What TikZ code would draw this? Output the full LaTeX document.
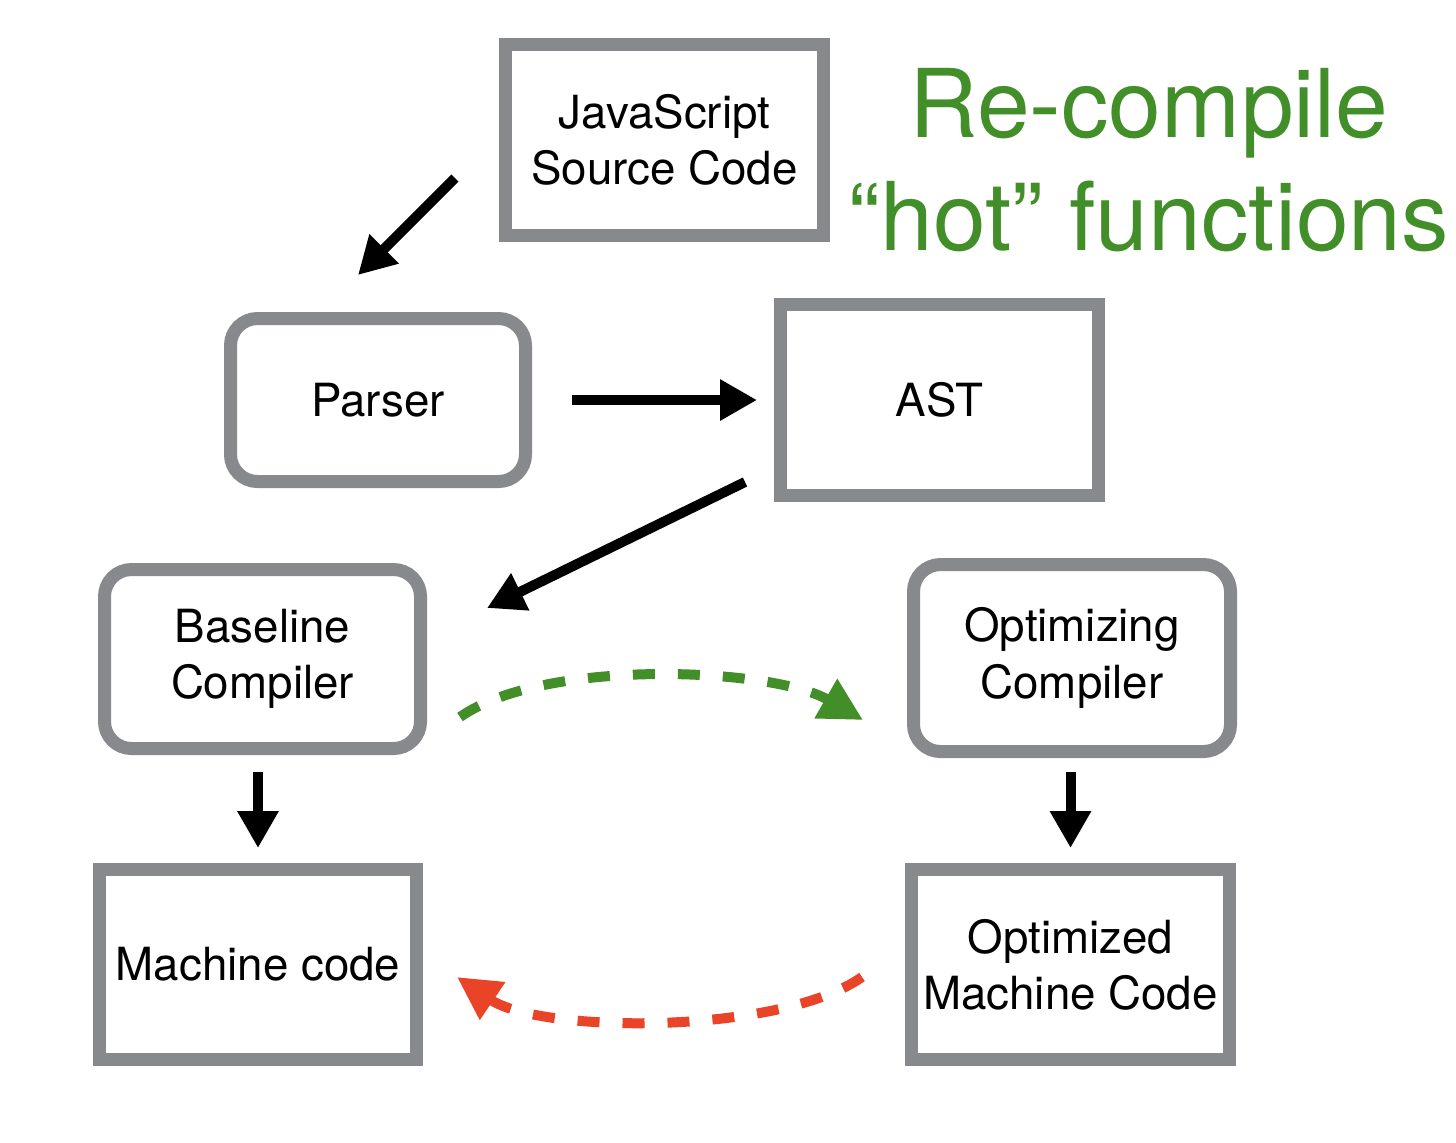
\documentclass[tikz,border=0pt]{standalone}
\usepackage{fontspec}
\setmainfont{TeX Gyre Heros}
\usetikzlibrary{arrows.meta}
\definecolor{boxgray}{RGB}{136,137,141}
\definecolor{hotgreen}{RGB}{66,142,41}
\definecolor{deopt}{RGB}{233,68,40}
\tikzset{
  box/.style={draw=boxgray, line width=0.13cm, align=center, inner sep=0pt,
    font=\fontsize{13}{16}\selectfont},
  rbox/.style={box, rounded corners=0.27cm},
  arr/.style={line width=0.1cm, -{Triangle[length=0.37cm,width=0.39cm]}},
  hot/.style={line width=0.1cm, dash pattern=on 0.22cm off 0.23cm,
    -{Triangle[length=0.43cm,width=0.43cm]}},
}
\begin{document}
\begin{tikzpicture}
  \useasboundingbox (0,0) rectangle (14.56,-11.42);
  % Front end
  \node[box, minimum width=3.18cm, minimum height=1.91cm] (js) at (6.645,-1.40) {JavaScript\\Source Code};
  \node[rbox, minimum width=2.95cm, minimum height=1.63cm] (parser) at (3.78,-4.00) {Parser};
  \node[box, minimum width=3.18cm, minimum height=1.91cm] (ast) at (9.395,-4.00) {AST};
  % Compilers
  \node[rbox, minimum width=3.16cm, minimum height=1.79cm] (base) at (2.625,-6.59) {Baseline\\Compiler};
  \node[rbox, minimum width=3.17cm, minimum height=1.87cm] (opt) at (10.72,-6.58) {Optimizing\\Compiler};
  % Machine code
  \node[box, minimum width=3.17cm, minimum height=1.90cm] (mc) at (2.58,-9.645) {Machine code};
  \node[box, minimum width=3.18cm, minimum height=1.90cm] (omc) at (10.705,-9.645) {Optimized\\Machine Code};
  % Label
  \node[text=hotgreen, font=\fontsize{27}{32}\selectfont, align=center, anchor=base] (hotlabel)
    at (11.49,-2.50) {Re-compile\\“hot” functions};
  % Arrows
  \draw[arr] ([shift={(-0.44,-0.38)}]js.west) -- ([shift={(-0.20,0.37)}]parser.north);
  \draw[arr, shorten <=0.40cm, shorten >=0.17cm] (parser.east) -- (ast.west);
  \draw[arr] ([shift={(-0.29,0.20)}]ast.south west) -- ([shift={(0.60,-0.45)}]base.north east);
  \draw[arr, shorten <=0.17cm, shorten >=0.15cm] (base.south -| mc.north) -- (mc.north);
  \draw[arr, shorten <=0.14cm, shorten >=0.15cm] (opt.south -| omc.north) -- (omc.north);
  \draw[hot, hotgreen] ([shift={(0.33,-0.58)}]base.east)
    to[out=35, in=150, looseness=0.66] ([shift={(-0.44,-0.62)}]opt.west);
  \draw[hot, deopt] ([shift={(-0.43,-0.125)}]omc.west)
    to[out=215, in=-34, looseness=0.64] ([shift={(0.34,-0.125)}]mc.east);
\end{tikzpicture}
\end{document}
